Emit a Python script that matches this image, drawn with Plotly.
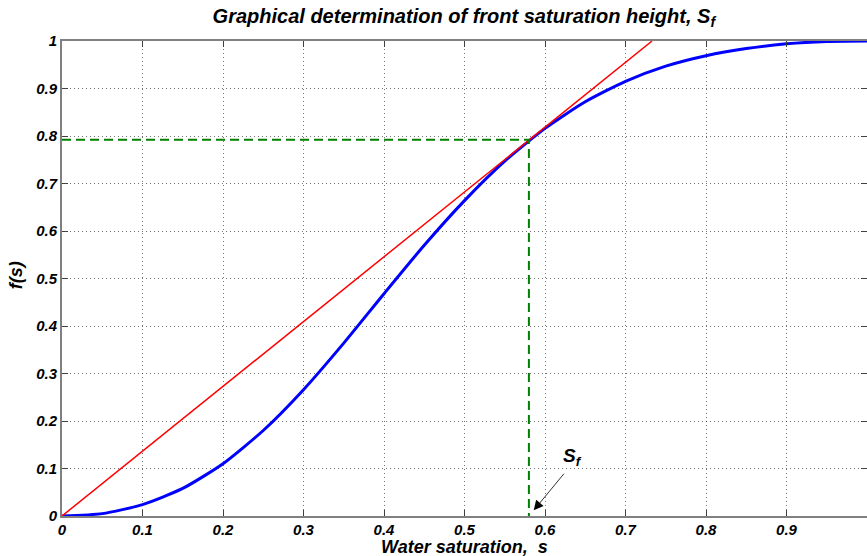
# Fractional flow curve with Welge tangent construction
import plotly.graph_objects as go

# water saturation and fractional flow
s_vals = [0, 0.05, 0.1, 0.15, 0.2, 0.25, 0.3, 0.35, 0.4, 0.45, 0.5,
          0.55, 0.6, 0.65, 0.7, 0.75, 0.8, 0.85, 0.9, 0.95, 1.0]
f_vals = [0, 0.005, 0.024, 0.058, 0.11, 0.18, 0.266, 0.364, 0.468, 0.57, 0.664,
          0.747, 0.816, 0.872, 0.915, 0.947, 0.969, 0.984, 0.994, 0.999, 1.0]

# tangent line from origin
tan_s = [0, 0.733]
tan_f = [0, 1.0]

# front saturation point
s_front = 0.58
f_front = 0.792

font_bi = dict(family="Liberation Sans, Arial, sans-serif", color="black",
               weight="bold", style="italic")

fig = go.Figure()
fig.add_trace(go.Scatter(x=s_vals, y=f_vals, mode="lines",
                         line=dict(color="#0000ff", width=3, shape="spline", smoothing=0.6)))
fig.add_trace(go.Scatter(x=tan_s, y=tan_f, mode="lines",
                         line=dict(color="#ff0000", width=1.5)))
fig.add_trace(go.Scatter(x=[0, s_front, s_front], y=[f_front, f_front, 0], mode="lines",
                         line=dict(color="#008000", width=2, dash="9px,5px")))

# S_f label with arrow
fig.add_annotation(x=0.586, y=0.012, ax=0.625, ay=0.092, xref="x", yref="y",
                   axref="x", ayref="y", text="", showarrow=True,
                   arrowhead=2, arrowsize=2.4, arrowwidth=0.8, arrowcolor="black")
fig.add_annotation(x=0.634, y=0.125, xref="x", yref="y", showarrow=False,
                   text="S<sub>f</sub>", font=dict(size=19, **font_bi))

# axis titles placed by hand
fig.add_annotation(x=0.5, y=-0.066, xref="paper", yref="paper", showarrow=False,
                   xanchor="center", yanchor="middle",
                   text="Water saturation,  s", font=dict(size=18, **font_bi))
fig.add_annotation(x=-0.057, y=0.507, xref="paper", yref="paper", showarrow=False,
                   xanchor="center", yanchor="middle",
                   text="f(s)", textangle=-90, font=dict(size=18, **font_bi))

axis_common = dict(range=[0, 1], dtick=0.1, showline=True, linecolor="#808080",
                   linewidth=2, mirror="allticks", ticks="inside", ticklen=6,
                   tickcolor="#404040", showgrid=True, gridcolor="rgba(0,0,0,0.55)",
                   griddash="1px,3px", gridwidth=1, zeroline=False, automargin=False,
                   tickfont=dict(size=15, **font_bi))

fig.update_xaxes(**axis_common, ticklabelstandoff=-1)
fig.update_yaxes(**axis_common)

fig.update_layout(
    width=867, height=556,
    margin=dict(l=62, r=0, t=41, b=40),
    paper_bgcolor="white", plot_bgcolor="white",
    showlegend=False,
    title=dict(text="Graphical determination of front saturation height, S<sub>f</sub>",
               x=0.535, xanchor="center", y=0.972, yanchor="middle",
               font=dict(size=20, **font_bi)),
)

# drop the default page margin so the figure sits at the window corner
fig.write_html("out.html", config={"displayModeBar": False},
               post_script="document.body.style.margin='0';")
